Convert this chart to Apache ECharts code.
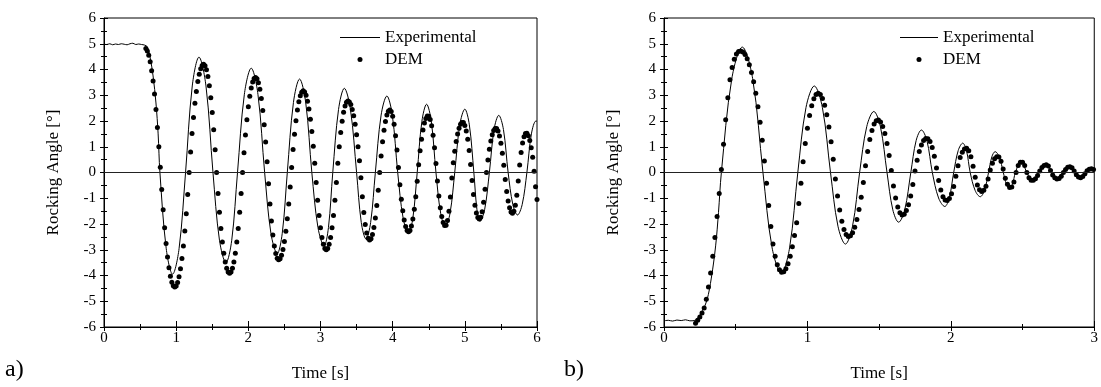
<!DOCTYPE html>
<html><head><meta charset="utf-8">
<script src="https://cdn.jsdelivr.net/npm/echarts@6/dist/echarts.min.js"></script>
<style>html,body{margin:0;padding:0;background:#fff}#c{width:1101px;height:387px}</style>
</head><body><div id="c"></div>
<script>
const seriesNames = ['Experimental', 'DEM'];
const panelLabels = ['a)', 'b)'];
const xAxisTitle = 'Time [s]';
const yAxisTitle = 'Rocking Angle [°]';
const xMaxA = 6, xMaxB = 3;
const yMin = -6, yMax = 6;

// Panel a) experimental trace [time s, angle deg]
const expA = [
 [0,4.98],[0.04,4.97],[0.08,5.0],[0.12,4.96],[0.16,4.99],[0.2,4.97],[0.24,5.0],[0.28,4.98],[0.32,4.96],[0.36,5.0],[0.4,5.02],[0.44,4.97],[0.48,4.99],[0.52,4.97],[0.56,4.95],[0.6,4.88],[0.64,4.45],[0.68,3.75],[0.72,2.7],[0.75,1.5],[0.775,0],
 [0.8625,-2.96],[0.95,-3.95],[1.04,-2.96],[1.13,0],
 [1.223,3.36],[1.316,4.48],[1.413,3.36],[1.51,0],
 [1.60,-2.63],[1.69,-3.5],[1.77,-2.63],[1.85,0],
 [1.945,3.04],[2.04,4.05],[2.133,3.04],[2.226,0],
 [2.313,-2.36],[2.40,-3.15],[2.47,-2.36],[2.54,0],
 [2.625,2.72],[2.71,3.63],[2.795,2.72],[2.88,0],
 [2.965,-2.14],[3.05,-2.85],[3.11,-2.14],[3.17,0],
 [3.25,2.45],[3.33,3.27],[3.415,2.45],[3.50,0],
 [3.565,-1.94],[3.63,-2.58],[3.695,-1.94],[3.76,0],
 [3.84,2.23],[3.92,2.97],[3.995,2.23],[4.07,0],
 [4.145,-1.77],[4.22,-2.36],[4.28,-1.77],[4.34,0],
 [4.405,1.99],[4.47,2.65],[4.535,1.99],[4.60,0],
 [4.665,-1.58],[4.73,-2.1],[4.795,-1.58],[4.86,0],
 [4.93,1.85],[5.0,2.46],[5.0625,1.85],[5.125,0],
 [5.1675,-1.43],[5.21,-1.9],[5.275,-1.43],[5.34,0],
 [5.405,1.67],[5.47,2.22],[5.535,1.67],[5.60,0],
 [5.665,-1.24],[5.73,-1.65],[5.795,-1.24],[5.86,0],
 [5.9225,1.5],[5.985,2.0],[6.0,1.99]
];
// Panel a) DEM samples: first time, time step, angles
const demA_t0 = 0.58, demA_dt = 0.02;
const demA = [
 4.82,4.72,4.55,4.30,3.95,3.55,3.05,2.45,1.75,1.00,
 0.20,-0.66,-1.45,-2.15,-2.76,-3.28,-3.70,-4.03,-4.26,-4.40,
 -4.45,-4.41,-4.27,-4.05,-3.74,-3.34,-2.85,-2.27,-1.60,-0.85,
 0.00,0.80,1.51,2.14,2.69,3.15,3.53,3.82,4.03,4.16,
 4.20,4.15,3.99,3.73,3.37,2.90,2.33,1.66,0.88,0.00,
 -0.82,-1.54,-2.17,-2.70,-3.14,-3.48,-3.72,-3.86,-3.91,-3.86,
 -3.72,-3.48,-3.14,-2.70,-2.17,-1.54,-0.82,0.00,0.77,1.46,
 2.05,2.55,2.96,3.28,3.51,3.65,3.69,3.64,3.49,3.23,
 2.87,2.41,1.85,1.18,0.42,-0.44,-1.22,-1.88,-2.43,-2.85,
 -3.15,-3.33,-3.39,-3.35,-3.21,-2.99,-2.68,-2.28,-1.80,-1.22,
 -0.56,0.19,0.89,1.49,2.01,2.43,2.75,2.98,3.12,3.17,
 3.13,3.00,2.77,2.47,2.07,1.59,1.02,0.36,-0.39,-1.08,
 -1.67,-2.15,-2.52,-2.79,-2.95,-3.00,-2.95,-2.79,-2.52,-2.15,
 -1.67,-1.08,-0.39,0.36,1.00,1.55,1.99,2.34,2.58,2.73,
 2.78,2.74,2.64,2.45,2.20,1.87,1.47,1.00,0.46,-0.20,
 -0.94,-1.55,-2.02,-2.35,-2.55,-2.62,-2.57,-2.41,-2.14,-1.77,
 -1.28,-0.69,0.00,0.64,1.19,1.64,1.98,2.23,2.38,2.43,
 2.37,2.18,1.87,1.43,0.87,0.19,-0.48,-1.04,-1.49,-1.84,
 -2.10,-2.25,-2.30,-2.25,-2.08,-1.81,-1.43,-0.94,-0.34,0.30,
 0.84,1.29,1.65,1.92,2.10,2.19,2.18,2.06,1.82,1.45,
 0.96,0.35,-0.33,-0.91,-1.37,-1.71,-1.94,-2.06,-2.05,-1.86,
 -1.50,-0.95,-0.21,0.38,0.83,1.20,1.50,1.72,1.87,1.94,
 1.94,1.83,1.61,1.29,0.85,0.31,-0.31,-0.85,-1.27,-1.57,
 -1.75,-1.81,-1.74,-1.52,-1.16,-0.65,0.00,0.49,0.90,1.22,
 1.47,1.63,1.71,1.71,1.61,1.42,1.14,0.75,0.28,-0.27,
 -0.74,-1.11,-1.37,-1.53,-1.58,-1.50,-1.27,-0.88,-0.33,0.29,
 0.78,1.15,1.39,1.51,1.52,1.43,1.24,0.96,0.59,0.05,
 -0.55,-1.05
];
// Panel b) experimental trace
const expB = [
 [0,-5.76],[0.03,-5.74],[0.06,-5.77],[0.09,-5.73],[0.12,-5.75],[0.15,-5.72],[0.18,-5.76],[0.21,-5.75],[0.24,-5.62],[0.27,-5.35],[0.30,-4.95],[0.33,-4.1],[0.36,-2.85],[0.38,-1.55],[0.40,0],
 [0.473,3.65],[0.546,4.87],[0.618,3.65],[0.69,0],
 [0.754,-2.93],[0.818,-3.91],[0.8755,-2.93],[0.933,0],
 [0.99,2.52],[1.048,3.36],[1.1045,2.52],[1.161,0],
 [1.213,-2.085],[1.265,-2.78],[1.3145,-2.085],[1.364,0],
 [1.4135,1.78],[1.463,2.37],[1.509,1.78],[1.555,0],
 [1.5955,-1.45],[1.636,-1.93],[1.6785,-1.45],[1.721,0],
 [1.758,1.24],[1.795,1.65],[1.833,1.24],[1.871,0],
 [1.9145,-0.99],[1.958,-1.32],[1.989,-0.99],[2.02,0],
 [2.0515,0.855],[2.083,1.14],[2.109,0.855],[2.135,0],
 [2.17,-0.705],[2.205,-0.94],[2.234,-0.705],[2.263,0],
 [2.286,0.61],[2.309,0.81],[2.3375,0.61],[2.366,0],
 [2.388,-0.465],[2.41,-0.62],[2.43,-0.465],[2.45,0],
 [2.49,0.45],[2.53,0],[2.567,-0.33],[2.615,0],[2.666,0.30],[2.70,0],[2.745,-0.26],[2.785,0],[2.83,0.22],[2.865,0],[2.905,-0.2],[2.94,0],[2.98,0.15],[3.0,0.1]
];
// Panel b) DEM samples
const demB_t0 = 0.22, demB_dt = 0.015;
const demB = [
 -5.85,-5.74,-5.61,-5.46,-5.26,-4.92,-4.45,-3.90,-3.25,-2.52,
 -1.71,-0.82,0.12,1.10,2.05,2.90,3.60,4.08,4.40,4.60,
 4.70,4.72,4.68,4.58,4.42,4.18,3.88,3.52,3.08,2.55,
 1.95,1.25,0.45,-0.42,-1.28,-2.10,-2.78,-3.25,-3.58,-3.78,
 -3.87,-3.85,-3.74,-3.54,-3.25,-2.88,-2.45,-1.95,-1.20,-0.42,
 0.42,1.13,1.72,2.21,2.59,2.86,3.03,3.08,3.03,2.87,
 2.61,2.24,1.77,1.19,0.51,-0.25,-0.91,-1.46,-1.89,-2.21,
 -2.41,-2.49,-2.46,-2.34,-2.13,-1.83,-1.44,-0.96,-0.39,0.26,
 0.82,1.28,1.63,1.88,2.01,2.04,1.96,1.79,1.51,1.13,
 0.66,0.08,-0.52,-0.99,-1.34,-1.56,-1.65,-1.62,-1.48,-1.25,
 -0.91,-0.47,0.06,0.48,0.82,1.07,1.24,1.32,1.31,1.20,
 0.97,0.63,0.17,-0.31,-0.68,-0.94,-1.07,-1.09,-1.01,-0.83,
 -0.54,-0.15,0.26,0.58,0.79,0.91,0.94,0.84,0.61,0.24,
 -0.18,-0.49,-0.67,-0.74,-0.69,-0.53,-0.25,0.10,0.36,0.53,
 0.61,0.60,0.44,0.14,-0.22,-0.46,-0.58,-0.56,-0.37,0.00,
 0.27,0.40,0.40,0.27,0.00,-0.20,-0.30,-0.30,-0.24,-0.12,
 0.06,0.19,0.27,0.30,0.25,0.08,-0.10,-0.20,-0.25,-0.23,
 -0.15,0.00,0.12,0.20,0.22,0.18,0.06,-0.09,-0.17,-0.20,
 -0.16,-0.05,0.07,0.13,0.15,0.12
];

const FONT = 'Liberation Serif';
const BLACK = '#000';
const toPts = (t0, dt, vals) => vals.map((v, i) => [+(t0 + i * dt).toFixed(4), v]);

function xAxisDef(gi, max, main) {
  return {
    type: 'value', gridIndex: gi, min: 0, max: max, interval: 1, position: 'bottom',
    name: main ? xAxisTitle : '', nameLocation: 'middle', nameGap: 38,
    nameTextStyle: { fontFamily: FONT, fontSize: 17, color: BLACK },
    axisLine: { show: main, onZero: false, lineStyle: { color: BLACK, width: 1 } },
    axisTick: { show: true, inside: !main, length: main ? 4 : 6, lineStyle: { color: BLACK, width: 1 } },
    minorTick: { show: true, splitNumber: 2, length: 3, lineStyle: { color: BLACK, width: 1 } },
    axisLabel: { show: main, margin: 4, fontFamily: FONT, fontSize: 15, color: BLACK },
    splitLine: { show: false }, minorSplitLine: { show: false }
  };
}
function yAxisDef(gi, main) {
  return {
    type: 'value', gridIndex: gi, min: yMin, max: yMax, interval: 1, position: 'left',
    name: main ? yAxisTitle : '', nameLocation: 'middle', nameGap: 42, nameRotate: 90,
    nameTextStyle: { fontFamily: FONT, fontSize: 17, color: BLACK },
    axisLine: { show: main, onZero: false, lineStyle: { color: BLACK, width: 1 } },
    axisTick: { show: true, inside: !main, length: 4, lineStyle: { color: BLACK, width: 1 } },
    minorTick: { show: true, splitNumber: 2, length: 3, lineStyle: { color: BLACK, width: 1 } },
    axisLabel: { show: main, margin: 8, fontFamily: FONT, fontSize: 15, color: BLACK },
    splitLine: { show: false }, minorSplitLine: { show: false }
  };
}
function lineSeries(ax, data) {
  return {
    name: seriesNames[0], type: 'line', xAxisIndex: ax, yAxisIndex: ax, data: data,
    symbol: 'none', smooth: 0.35, lineStyle: { color: BLACK, width: 1 }, itemStyle: { color: BLACK },
    markLine: { silent: true, symbol: 'none', label: { show: false },
      lineStyle: { color: '#222', width: 1, type: 'solid' }, data: [{ yAxis: 0 }] },
    z: 2
  };
}
function dotSeries(ax, data) {
  return {
    name: seriesNames[1], type: 'scatter', xAxisIndex: ax, yAxisIndex: ax, data: data,
    symbol: 'circle', symbolSize: 5, itemStyle: { color: BLACK, opacity: 1 }, z: 3
  };
}
function legendDef(left, w) {
  return {
    orient: 'vertical', left: left, top: 29, padding: 0, itemWidth: w, itemHeight: 5, itemGap: 5,
    data: [
      { name: seriesNames[0], icon: 'path://M0,0H40V1H0Z', itemStyle: { color: BLACK } },
      { name: seriesNames[1], icon: 'circle', itemStyle: { color: BLACK, opacity: 1 } }
    ],
    selectedMode: false,
    textStyle: { fontFamily: FONT, fontSize: 17, color: BLACK }
  };
}

const chart = echarts.init(document.getElementById('c'), null, { renderer: 'canvas' });
chart.setOption({
  backgroundColor: '#fff',
  animation: false,
  grid: [
    { left: 104, top: 18, width: 433, height: 309, show: true, borderColor: BLACK, borderWidth: 1, backgroundColor: 'transparent', containLabel: false },
    { left: 664, top: 18, width: 434, height: 309, show: true, borderColor: BLACK, borderWidth: 1, backgroundColor: 'transparent', containLabel: false }
  ],
  xAxis: [xAxisDef(0, xMaxA, true), xAxisDef(0, xMaxA, false), xAxisDef(1, xMaxB, true), xAxisDef(1, xMaxB, false)],
  yAxis: [yAxisDef(0, true), yAxisDef(0, false), yAxisDef(1, true), yAxisDef(1, false)],
  legend: [legendDef(340, 40), legendDef(900, 38)],
  series: [
    lineSeries(0, expA),
    dotSeries(0, toPts(demA_t0, demA_dt, demA)),
    lineSeries(2, expB),
    dotSeries(2, toPts(demB_t0, demB_dt, demB))
  ],
  graphic: [
    { type: 'text', left: 5, top: 358, style: { text: panelLabels[0], fontFamily: FONT, fontSize: 24, fill: BLACK } },
    { type: 'text', left: 564, top: 358, style: { text: panelLabels[1], fontFamily: FONT, fontSize: 24, fill: BLACK } }
  ]
});
</script></body></html>
